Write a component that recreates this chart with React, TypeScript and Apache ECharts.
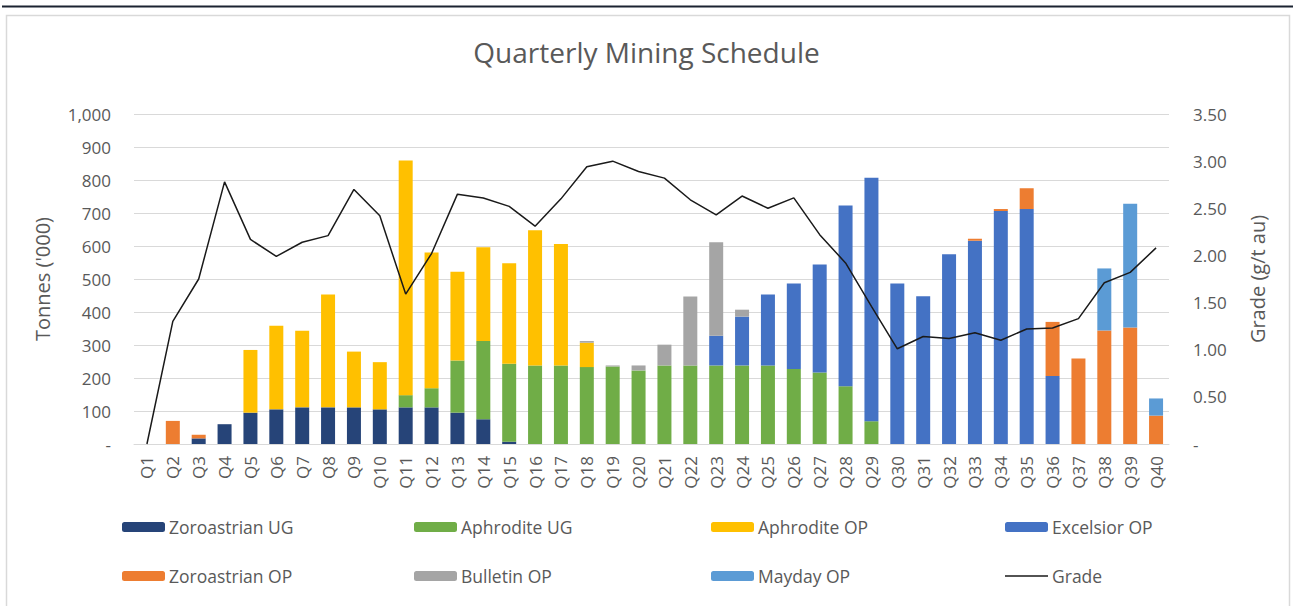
import React, { useEffect, useRef } from "react";
import * as echarts from "echarts";

const categories = [
  "Q1", "Q2", "Q3", "Q4", "Q5", "Q6", "Q7", "Q8", "Q9", "Q10",
  "Q11", "Q12", "Q13", "Q14", "Q15", "Q16", "Q17", "Q18", "Q19", "Q20",
  "Q21", "Q22", "Q23", "Q24", "Q25", "Q26", "Q27", "Q28", "Q29", "Q30",
  "Q31", "Q32", "Q33", "Q34", "Q35", "Q36", "Q37", "Q38", "Q39", "Q40",
];

const zoroastrianUG = [
  0, 0, 17, 60, 95, 105, 111, 111, 111, 105,
  111, 111, 95, 75, 7, 0, 0, 0, 0, 0,
  0, 0, 0, 0, 0, 0, 0, 0, 0, 0,
  0, 0, 0, 0, 0, 0, 0, 0, 0, 0,
];
const aphroditeUG = [
  0, 0, 0, 0, 0, 0, 0, 0, 0, 0,
  37, 58, 158, 237, 236, 238, 238, 233, 235, 223,
  238, 238, 238, 238, 238, 227, 217, 175, 69, 0,
  0, 0, 0, 0, 0, 0, 0, 0, 0, 0,
];
const aphroditeOP = [
  0, 0, 0, 0, 190, 253, 232, 342, 169, 143,
  711, 411, 269, 284, 305, 410, 368, 74, 0, 0,
  0, 0, 0, 0, 0, 0, 0, 0, 0, 0,
  0, 0, 0, 0, 0, 0, 0, 0, 0, 0,
];
const excelsiorOP = [
  0, 0, 0, 0, 0, 0, 0, 0, 0, 0,
  0, 0, 0, 0, 0, 0, 0, 0, 0, 0,
  0, 0, 90, 148, 215, 259, 327, 548, 738, 486,
  448, 575, 616, 706, 712, 206, 0, 0, 0, 0,
];
const zoroastrianOP = [
  0, 70, 11, 0, 0, 0, 0, 0, 0, 0,
  0, 0, 0, 0, 0, 0, 0, 0, 0, 0,
  0, 0, 0, 0, 0, 0, 0, 0, 0, 0,
  0, 0, 6, 6, 63, 164, 259, 344, 353, 86,
];
const bulletinOP = [
  0, 0, 0, 0, 0, 0, 0, 0, 0, 0,
  0, 0, 0, 0, 0, 0, 0, 5, 3, 15,
  63, 209, 283, 21, 0, 0, 0, 0, 0, 0,
  0, 0, 0, 0, 0, 0, 0, 0, 0, 0,
];
const maydayOP = [
  0, 0, 0, 0, 0, 0, 0, 0, 0, 0,
  0, 0, 0, 0, 0, 0, 0, 0, 0, 0,
  0, 0, 0, 0, 0, 0, 0, 0, 0, 0,
  0, 0, 0, 0, 0, 0, 0, 188, 375, 52,
];
const grade = [
  0, 1.3, 1.75, 2.78, 2.17, 1.99, 2.14, 2.21, 2.7, 2.42,
  1.59, 2.02, 2.65, 2.61, 2.52, 2.31, 2.6, 2.94, 3.0, 2.89,
  2.82, 2.59, 2.43, 2.63, 2.5, 2.61, 2.22, 1.92, 1.46, 1.01,
  1.14, 1.12, 1.18, 1.1, 1.22, 1.23, 1.33, 1.71, 1.82, 2.08,
];

const barSeriesDefs = [
  { name: "Zoroastrian UG", data: zoroastrianUG, color: "#264478" },
  { name: "Aphrodite UG", data: aphroditeUG, color: "#70AD47" },
  { name: "Aphrodite OP", data: aphroditeOP, color: "#FFC000" },
  { name: "Excelsior OP", data: excelsiorOP, color: "#4472C4" },
  { name: "Zoroastrian OP", data: zoroastrianOP, color: "#ED7D31" },
  { name: "Bulletin OP", data: bulletinOP, color: "#A5A5A5" },
  { name: "Mayday OP", data: maydayOP, color: "#5B9BD5" },
];

const legendLayout = [
  { name: "Zoroastrian UG", left: 122, top: 518 },
  { name: "Aphrodite UG", left: 414, top: 518 },
  { name: "Aphrodite OP", left: 711, top: 518 },
  { name: "Excelsior OP", left: 1005, top: 518 },
  { name: "Zoroastrian OP", left: 122, top: 567 },
  { name: "Bulletin OP", left: 414, top: 567 },
  { name: "Mayday OP", left: 711, top: 567 },
  { name: "Grade", left: 1005, top: 567 },
];

const FONT = "'Open Sans', 'Noto Sans', sans-serif";
const TEXT = "#595959";
const GRID = "#D9D9D9";
const GRADE_COLOR = "#1a1a1a";

export default function App() {
  const ref = useRef<HTMLDivElement>(null);

  useEffect(() => {
    document.body.style.margin = "0";
    document.body.style.overflow = "hidden";
    if (!ref.current) return;
    const chart = echarts.init(ref.current, null, { renderer: "svg" });

    const series: any[] = barSeriesDefs.map((s) => ({
      name: s.name,
      type: "bar",
      stack: "tonnes",
      data: s.data,
      barWidth: 14,
      itemStyle: { color: s.color },
      emphasis: { disabled: true },
    }));
    series.push({
      name: "Grade",
      type: "line",
      yAxisIndex: 1,
      data: grade,
      symbol: "none",
      lineStyle: { color: GRADE_COLOR, width: 1.5 },
      itemStyle: { color: GRADE_COLOR },
      emphasis: { disabled: true },
    });

    chart.setOption({
      animation: false,
      textStyle: { fontFamily: FONT },
      title: {
        text: "Quarterly Mining Schedule",
        left: "center",
        top: 33,
        textStyle: { fontFamily: FONT, fontSize: 28, fontWeight: "normal", color: TEXT },
      },
      graphic: [
        {
          type: "rect",
          shape: { x: 6.5, y: 15.5, width: 1283, height: 600 },
          style: { fill: "none", stroke: "#D9D9D9", lineWidth: 1.5 },
          silent: true,
        },
        {
          type: "rect",
          shape: { x: 2, y: 5.5, width: 1291, height: 2 },
          style: { fill: "#1b2331" },
          silent: true,
        },
      ],
      legend: legendLayout.map((l) => ({
        data:
          l.name === "Grade"
            ? [{ name: l.name, icon: "rect", itemStyle: { color: GRADE_COLOR } }]
            : [l.name],
        left: l.left,
        top: l.top,
        itemWidth: 43,
        itemHeight: l.name === "Grade" ? 1.5 : 10,
        itemGap: 4,
        padding: 0,
        selectedMode: false,
        textStyle: { fontFamily: FONT, fontSize: 17.5, color: TEXT, padding: [0, 0, 0, -1] },
      })),
      grid: { left: 134, right: 124, top: 114, height: 330, containLabel: false },
      xAxis: {
        type: "category",
        data: categories,
        axisLine: { lineStyle: { color: GRID, width: 1 } },
        axisTick: { show: false },
        axisLabel: {
          rotate: 90,
          interval: 0,
          margin: 12,
          fontFamily: FONT,
          fontSize: 17,
          color: TEXT,
        },
      },
      yAxis: [
        {
          type: "value",
          min: 0,
          max: 1000,
          interval: 100,
          name: "Tonnes ('000)",
          nameLocation: "middle",
          nameRotate: 90,
          nameGap: 82,
          nameTextStyle: { fontFamily: FONT, fontSize: 20, color: TEXT },
          axisLine: { show: false },
          axisTick: { show: false },
          splitLine: { lineStyle: { color: GRID, width: 1 } },
          axisLabel: {
            margin: 23,
            fontFamily: FONT,
            fontSize: 17,
            color: TEXT,
            formatter: (v: number) => (v === 0 ? "-" : v.toLocaleString("en-US")),
          },
        },
        {
          type: "value",
          min: 0,
          max: 3.5,
          interval: 0.5,
          name: "Grade (g/t au)",
          nameLocation: "middle",
          nameRotate: 90,
          nameGap: 78,
          nameTextStyle: { fontFamily: FONT, fontSize: 20, color: TEXT },
          axisLine: { show: false },
          axisTick: { show: false },
          splitLine: { show: false },
          axisLabel: {
            margin: 24,
            fontFamily: FONT,
            fontSize: 17,
            color: TEXT,
            formatter: (v: number) => (v === 0 ? "-" : v.toFixed(2)),
          },
        },
      ],
      series,
    });

    return () => chart.dispose();
  }, []);

  return <div ref={ref} style={{ width: 1293, height: 606 }} />;
}
